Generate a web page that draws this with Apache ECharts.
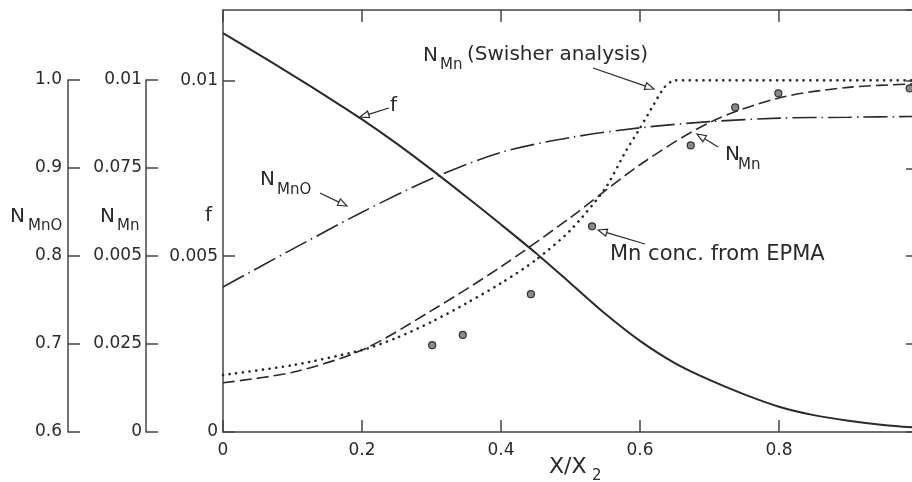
<!DOCTYPE html>
<html>
<head>
<meta charset="utf-8">
<script src="https://cdn.jsdelivr.net/npm/echarts@6/dist/echarts.min.js"></script>
<style>
html, body { margin: 0; padding: 0; background: #fff; }
#chart { width: 912px; height: 482px; }
</style>
</head>
<body>
<div id="chart"></div>
<script>
// values
var xF = [0, 0.05, 0.1, 0.15, 0.2, 0.25, 0.3, 0.35, 0.4, 0.45, 0.5, 0.55, 0.6, 0.65, 0.7, 0.75, 0.8, 0.85, 0.9, 0.95, 1.0];
var fVals = [0.01134, 0.01075, 0.01015, 0.00953, 0.00889, 0.0082, 0.00746, 0.00669, 0.0059, 0.00509, 0.00423, 0.00336, 0.00259, 0.00196, 0.00148, 0.00107, 0.00072, 0.00048, 0.00032, 0.0002, 0.00012];

var xMnO = [0, 0.1, 0.2, 0.3, 0.4, 0.5, 0.6, 0.7, 0.8, 0.9, 1.0];
var nMnO = [0.765, 0.808, 0.850, 0.888, 0.918, 0.935, 0.946, 0.953, 0.957, 0.958, 0.959];

var xMn = [0, 0.1, 0.2, 0.3, 0.4, 0.5, 0.6, 0.7, 0.8, 0.9, 1.0];
var nMn = [0.0014, 0.0017, 0.00233, 0.00345, 0.0047, 0.0061, 0.0076, 0.0088, 0.0095, 0.0098, 0.0099];

var xSwisher = [0, 0.1, 0.2, 0.25, 0.3, 0.35, 0.4, 0.45, 0.5, 0.55, 0.58, 0.6, 0.62, 0.635, 0.65, 0.7, 0.8, 0.9, 1.0];
var nSwisher = [0.00162, 0.0019, 0.00233, 0.00268, 0.00313, 0.00366, 0.00423, 0.00489, 0.00574, 0.00693, 0.008, 0.00864, 0.00932, 0.0098, 0.01, 0.01, 0.01, 0.01, 0.01];

var xEpma = [0.301, 0.345, 0.443, 0.531, 0.673, 0.737, 0.799, 0.988];
var yEpma = [0.00247, 0.00276, 0.00392, 0.00585, 0.00815, 0.00923, 0.00963, 0.00977];

// tick labels
var xTickValues = [0, 0.2, 0.4, 0.6, 0.8];
var xTickLabels = ['0', '0.2', '0.4', '0.6', '0.8'];
var fTickValues = [0, 0.005, 0.01];
var fTickLabels = ['0', '0.005', '0.01'];
var mnTickValues = [0, 0.0025, 0.005, 0.0075, 0.01];
var mnTickLabels = ['0', '0.025', '0.005', '0.075', '0.01'];
var mnoTickValues = [0.6, 0.7, 0.8, 0.9, 1.0];
var mnoTickLabels = ['0.6', '0.7', '0.8', '0.9', '1.0'];

var ink = '#2a2a2a';
var fontName = '"DejaVu Sans"';

function zip(xs, ys) {
    return xs.map(function (x, i) { return [x, ys[i]]; });
}

function lookup(values, labels) {
    return function (v) {
        for (var i = 0; i < values.length; i++) {
            if (Math.abs(v - values[i]) < 1e-9) return labels[i];
        }
        return '';
    };
}

var axisLine = { show: true, onZero: false, lineStyle: { color: '#444', width: 1.5 } };
var tickIn = { show: true, inside: true, length: 12, lineStyle: { color: '#444', width: 1.5 } };

function tickLabel(values, labels, margin) {
    return {
        margin: margin,
        fontSize: 17,
        fontFamily: 'DejaVu Sans',
        color: ink,
        showMaxLabel: false,
        formatter: lookup(values, labels)
    };
}

function text(x, y, s, size) {
    return {
        type: 'text', x: x, y: y, z: 100,
        style: { text: s, fill: ink, font: size + 'px ' + fontName, verticalAlign: 'middle', align: 'left' }
    };
}

function arrow(x1, y1, x2, y2) {
    var a = Math.atan2(y2 - y1, x2 - x1), L = 9, W = 3.5;
    var bx = x2 - L * Math.cos(a), by = y2 - L * Math.sin(a);
    var px = -Math.sin(a) * W, py = Math.cos(a) * W;
    return [
        { type: 'line', z: 100, shape: { x1: x1, y1: y1, x2: bx, y2: by }, style: { stroke: ink, lineWidth: 1.2 } },
        { type: 'polygon', z: 100, shape: { points: [[x2, y2], [bx + px, by + py], [bx - px, by - py]] },
          style: { fill: '#fff', stroke: ink, lineWidth: 1.2 } }
    ];
}

var graphics = [
    // axis titles on the left
    text(10, 217, 'N', 20), text(28, 226, 'MnO', 15),
    text(100, 217, 'N', 20), text(117, 226, 'Mn', 15),
    text(205, 216, 'f', 20),
    // x axis title
    text(549, 467, 'X/X', 22), text(592, 476, '2', 15),
    // curve labels
    text(390, 106, 'f', 20),
    text(260, 180, 'N', 20), text(277, 190, 'MnO', 15),
    text(423, 56, 'N', 20), text(440, 65, 'Mn', 15), text(467, 55, '(Swisher analysis)', 20),
    text(725, 155, 'N', 20), text(738, 165, 'Mn', 15),
    text(610, 255, 'Mn conc. from EPMA', 21)
].concat(
    arrow(389, 108, 360, 117),
    arrow(320, 193, 347, 206),
    arrow(593, 68, 654, 89),
    arrow(718, 147, 697, 134),
    arrow(645, 244, 598, 230)
);

var myChart = echarts.init(document.getElementById('chart'));

var option = {
    animation: false,
    backgroundColor: '#fff',
    grid: [
        { left: 223, top: 10, width: 695, height: 422, outerBoundsMode: 'none', containLabel: false },
        { left: 68, top: 80, width: 10, height: 352, outerBoundsMode: 'none', containLabel: false },
        { left: 146, top: 80, width: 10, height: 352, outerBoundsMode: 'none', containLabel: false }
    ],
    xAxis: [
        {
            gridIndex: 0, type: 'value', position: 'bottom',
            min: 0, max: 1, interval: 0.2,
            axisLine: axisLine, axisTick: tickIn, splitLine: { show: false },
            axisLabel: tickLabel(xTickValues, xTickLabels, 10)
        },
        {
            gridIndex: 0, type: 'value', position: 'top',
            min: 0, max: 1, interval: 0.2,
            axisLine: axisLine, axisTick: tickIn, splitLine: { show: false },
            axisLabel: { show: false }
        },
        { gridIndex: 1, type: 'value', min: 0, max: 1, show: false },
        { gridIndex: 2, type: 'value', min: 0, max: 1, show: false }
    ],
    yAxis: [
        {   // f
            gridIndex: 0, type: 'value', position: 'left',
            min: 0, max: 0.012, interval: 0.005,
            axisLine: axisLine, axisTick: tickIn, splitLine: { show: false },
            axisLabel: tickLabel(fTickValues, fTickLabels, 5)
        },
        {   // N_MnO on the plot (right side ticks)
            gridIndex: 0, type: 'value', position: 'right',
            min: 0.6, max: 1.08, interval: 0.1,
            axisLine: axisLine, axisTick: tickIn, splitLine: { show: false },
            axisLabel: { show: false }
        },
        {   // outer N_Mn scale
            gridIndex: 2, type: 'value', position: 'left',
            min: 0, max: 0.01, interval: 0.0025,
            axisLine: axisLine, axisTick: tickIn, splitLine: { show: false },
            axisLabel: Object.assign(tickLabel(mnTickValues, mnTickLabels, 4), { showMaxLabel: true })
        },
        {   // outer N_MnO scale
            gridIndex: 1, type: 'value', position: 'left',
            min: 0.6, max: 1.0, interval: 0.1,
            axisLine: axisLine, axisTick: tickIn, splitLine: { show: false },
            axisLabel: Object.assign(tickLabel(mnoTickValues, mnoTickLabels, 6), { showMaxLabel: true })
        }
    ],
    series: [
        {
            name: 'f', type: 'line', xAxisIndex: 0, yAxisIndex: 0,
            data: zip(xF, fVals), smooth: 0.3, showSymbol: false, symbol: 'none',
            lineStyle: { color: ink, width: 2 }
        },
        {
            name: 'N_MnO', type: 'line', xAxisIndex: 0, yAxisIndex: 1,
            data: zip(xMnO, nMnO), smooth: 0.3, showSymbol: false, symbol: 'none',
            lineStyle: { color: ink, width: 1.6, type: [24, 5, 1.5, 5] }
        },
        {
            name: 'N_Mn', type: 'line', xAxisIndex: 0, yAxisIndex: 0,
            data: zip(xMn, nMn), smooth: 0.3, showSymbol: false, symbol: 'none',
            lineStyle: { color: ink, width: 1.6, type: [12, 5] }
        },
        {
            name: 'N_Mn (Swisher analysis)', type: 'line', xAxisIndex: 0, yAxisIndex: 0,
            data: zip(xSwisher, nSwisher), smooth: 0.25, showSymbol: false, symbol: 'none',
            lineStyle: { color: ink, width: 2.6, type: [0.1, 6.6], cap: 'round' }
        },
        {
            name: 'Mn conc. from EPMA', type: 'scatter', xAxisIndex: 0, yAxisIndex: 0,
            data: zip(xEpma, yEpma), symbolSize: 7,
            itemStyle: { color: '#8a8a8a', borderColor: '#333', borderWidth: 1.2, opacity: 1 }
        }
    ],
    graphic: graphics
};

myChart.setOption(option);
</script>
</body>
</html>
